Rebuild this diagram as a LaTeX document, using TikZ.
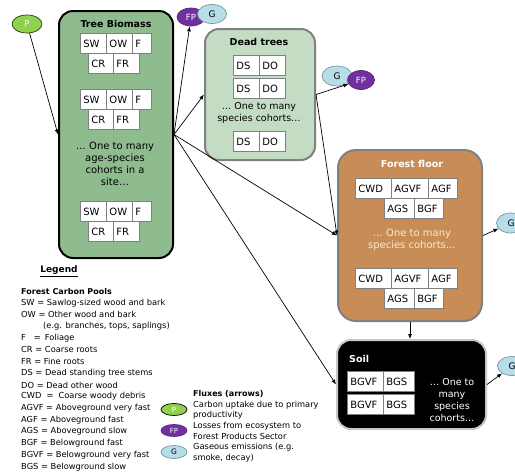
\documentclass[tikz,border=0pt]{standalone}
\usepackage{fontspec}
\setmainfont{DejaVu Sans}
\usetikzlibrary{arrows.meta,shapes.geometric}
\definecolor{tbgreen}{RGB}{143,188,143}
\definecolor{dtgreen}{RGB}{195,220,195}
\definecolor{ffbrown}{RGB}{200,141,86}
\definecolor{cellgray}{RGB}{128,128,128}
\definecolor{poolgray}{RGB}{128,128,128}
\definecolor{soilgray}{RGB}{200,200,200}
\definecolor{pgreen}{RGB}{146,208,80}
\definecolor{poutline}{RGB}{40,60,20}
\definecolor{fppurple}{RGB}{112,48,160}
\definecolor{gblue}{RGB}{183,222,232}
\definecolor{goutline}{RGB}{120,150,160}
\definecolor{ffcream}{RGB}{248,232,210}
\tikzset{
  pool/.style={rounded corners=14pt, line width=2pt, inner sep=0pt},
  pooltitle/.style={font=\fontsize{9.5}{11}\selectfont\bfseries, inner sep=0pt},
  cell/.style={draw=cellgray, line width=0.8pt, fill=white, anchor=north west,
    inner xsep=3pt, inner ysep=0pt, minimum height=20pt, align=left,
    font=\fontsize{10}{12}\selectfont},
  cohort/.style={align=center, inner sep=0pt, font=\fontsize{10}{12}\selectfont},
  flux/.style={line width=0.7pt, -{Latex[length=5pt,width=4pt]}},
  pflux/.style={ellipse, draw=poutline, fill=pgreen, line width=0.7pt, text=white, inner sep=0pt, font=\fontsize{8}{9}\selectfont},
  fpflux/.style={ellipse, draw=fppurple!80!black, fill=fppurple, line width=0.7pt, text=white, inner sep=0pt, font=\fontsize{8.5}{9}\selectfont},
  gflux/.style={ellipse, draw=goutline, fill=gblue, line width=0.7pt, text=black, inner sep=0pt, font=\fontsize{9}{10}\selectfont},
  bigell/.style={minimum width=29pt, minimum height=19pt},
  smallell/.style={minimum width=26pt, minimum height=12pt},
  legtext/.style={anchor=west, inner sep=0pt, font=\fontsize{8.3}{9}\selectfont},
  legbold/.style={anchor=west, inner sep=0pt, font=\fontsize{8}{9}\selectfont\bfseries},
}
\newcommand\mycell[5]{\node[cell, text width=\dimexpr#4pt-6pt\relax] (#1) at (#2,#3) {#5};}
\begin{document}
\begin{tikzpicture}[x=1pt,y=-1pt]
\useasboundingbox[fill=white] (0,0) rectangle (515,475);

% ---------- pools ----------
\node[pool, draw=black, fill=tbgreen, minimum width=114pt, minimum height=247pt] (tb) at (116,134.5) {};
\node[pooltitle] (tbtitle) at (116,24) {Tree Biomass};
\mycell{tbaa}{80}{33}{26}{SW}
\mycell{tbab}{106}{33}{26}{OW}
\mycell{tbac}{132}{33}{19}{F}
\mycell{tbad}{88}{53}{25}{CR}
\mycell{tbae}{113}{53}{26}{FR}
\mycell{tbba}{80}{89}{26}{SW}
\mycell{tbbb}{106}{89}{26}{OW}
\mycell{tbbc}{132}{89}{19}{F}
\mycell{tbbd}{88}{109}{25}{CR}
\mycell{tbbe}{113}{109}{26}{FR}
\node[cohort] (tbtext) at (115,164) {… One to many\\age-species\\cohorts in a\\site…};
\mycell{tbca}{80}{201}{26}{SW}
\mycell{tbcb}{106}{201}{26}{OW}
\mycell{tbcc}{132}{201}{19}{F}
\mycell{tbcd}{88}{221}{25}{CR}
\mycell{tbce}{113}{221}{26}{FR}

\node[pool, draw=poolgray, fill=dtgreen, minimum width=110pt, minimum height=131pt] (dt) at (260,94.5) {};
\node[pooltitle] (dttitle) at (259,42) {Dead trees};
\mycell{dtaa}{233}{55}{26}{DS}
\mycell{dtab}{259}{55}{26}{DO}
\mycell{dtba}{233}{78}{26}{DS}
\mycell{dtbb}{259}{78}{26}{DO}
\node[cohort, font=\fontsize{9.5}{12}\selectfont] (dttext) at (259,113) {… One to many\\species cohorts…};
\mycell{dtca}{233}{131}{26}{DS}
\mycell{dtcb}{259}{131}{26}{DO}

\node[pool, rounded corners=18pt, draw=poolgray, fill=ffbrown, minimum width=144pt, minimum height=171pt] (ff) at (410,235.5) {};
\node[pooltitle, text=white] (fftitle) at (412,164) {Forest floor};
\mycell{ffaa}{355}{178}{36}{CWD}
\mycell{ffab}{391}{178}{37}{AGVF}
\mycell{ffac}{428}{178}{29}{AGF}
\mycell{ffad}{384}{198}{30}{AGS}
\mycell{ffae}{414}{198}{29}{BGF}
\node[cohort, text=ffcream] (fftext) at (412,240) {… One to many\\species cohorts…};
\mycell{ffba}{355}{268}{36}{CWD}
\mycell{ffbb}{391}{268}{37}{AGVF}
\mycell{ffbc}{428}{268}{29}{AGF}
\mycell{ffbd}{384}{288}{30}{AGS}
\mycell{ffbe}{414}{288}{29}{BGF}

\node[pool, draw=soilgray, fill=black, minimum width=149pt, minimum height=89pt] (soil) at (411.5,384.5) {};
\node[pooltitle, text=white, anchor=west] (soiltitle) at (349,359) {Soil};
\mycell{soaa}{347}{371}{36}{BGVF}
\mycell{soab}{383}{371}{31}{BGS}
\mycell{soba}{347}{394}{36}{BGVF}
\mycell{sobb}{383}{394}{31}{BGS}
\node[cohort, text=white, font=\fontsize{9.5}{12}\selectfont] (sotext) at (452,400) {… One to\\many\\species\\cohorts…};

% ---------- flux ellipses ----------
\node[pflux, bigell, minimum width=30pt, minimum height=18pt] (p) at (27,24) {P};
\node[fpflux, bigell, minimum width=28pt, minimum height=18pt] (fpa) at (191,17) {FP};
\node[gflux, bigell] (ga) at (212,14) {G};
\node[gflux, bigell, minimum width=30pt, minimum height=20pt] (gb) at (337,76) {G};
\node[fpflux, bigell, minimum width=27pt] (fpb) at (361,80) {FP};
\node[gflux, bigell, minimum height=20pt] (gc) at (511,223) {G};
\node[gflux, bigell] (gd) at (512,366) {G};

% ---------- connectors ----------
\draw[flux] (p) -- (tb.west);
\draw[flux] (tb.east) -- (fpa);
\draw[flux] (tb.east) -- (dt.west);
\draw[flux] (tb.east) -- (ff.west);
\draw[flux] (tb.east) -- (soil.west);
\draw[flux] (dt.east) -- (fpb);
\draw[flux] (dt.east) -- (ff.west);
\draw[flux] (ff.east) -- (gc);
\draw[flux] (ff.south) -- (ff.south |- soil.north);
\draw[flux] (soil.east) -- (gd);

% ---------- legend ----------
\node[inner sep=0pt, font=\fontsize{9}{10}\selectfont\bfseries] (legtitle) at (59,271) {\underline{Legend}};
\node[legbold] (legpools) at (21,292) {Forest Carbon Pools};
\foreach \yy/\lt [count=\i] in {
  303/{SW = Sawlog-sized wood and bark},
  314.7/{OW = Other wood and bark},
  326.4/{\hspace*{22pt}(e.g. branches, tops, saplings)},
  338.1/{F\hspace*{8pt}=\hspace*{4pt}Foliage},
  349.8/{CR = Coarse roots},
  361.5/{FR = Fine roots},
  373.2/{DS = Dead standing tree stems},
  384.9/{DO = Dead other wood},
  396.6/{CWD\hspace*{5pt}=\hspace*{5pt}Coarse woody debris},
  408.3/{AGVF = Aboveground very fast},
  420/{AGF = Aboveground fast},
  431.7/{AGS = Aboveground slow},
  443.4/{BGF = Belowground fast},
  455.1/{BGVF = Belowground very fast},
  466.8/{BGS = Belowground slow}}
  {\node[legtext] (leg\i) at (21,\yy) {\lt};}

\node[legbold] (fluxtitle) at (193,394) {Fluxes (arrows)};
\node[legtext] (fluxpa) at (193,405) {Carbon uptake due to primary};
\node[legtext] (fluxpb) at (193,415) {productivity};
\node[legtext] (fluxfpa) at (193,426) {Losses from ecosystem to};
\node[legtext] (fluxfpb) at (193,436.5) {Forest Products Sector};
\node[legtext] (fluxga) at (193,447) {Gaseous emissions (e.g.};
\node[legtext] (fluxgb) at (193,458) {smoke, decay)};
\node[pflux, smallell, draw=black, font=\fontsize{7}{8}\selectfont] (legp) at (174,409.5) {P};
\node[fpflux, smallell, font=\fontsize{7}{8}\selectfont] (legfp) at (174,430.5) {FP};
\node[gflux, smallell, minimum height=13pt, font=\fontsize{7.5}{8}\selectfont] (legg) at (174,452) {G};
\end{tikzpicture}
\end{document}
